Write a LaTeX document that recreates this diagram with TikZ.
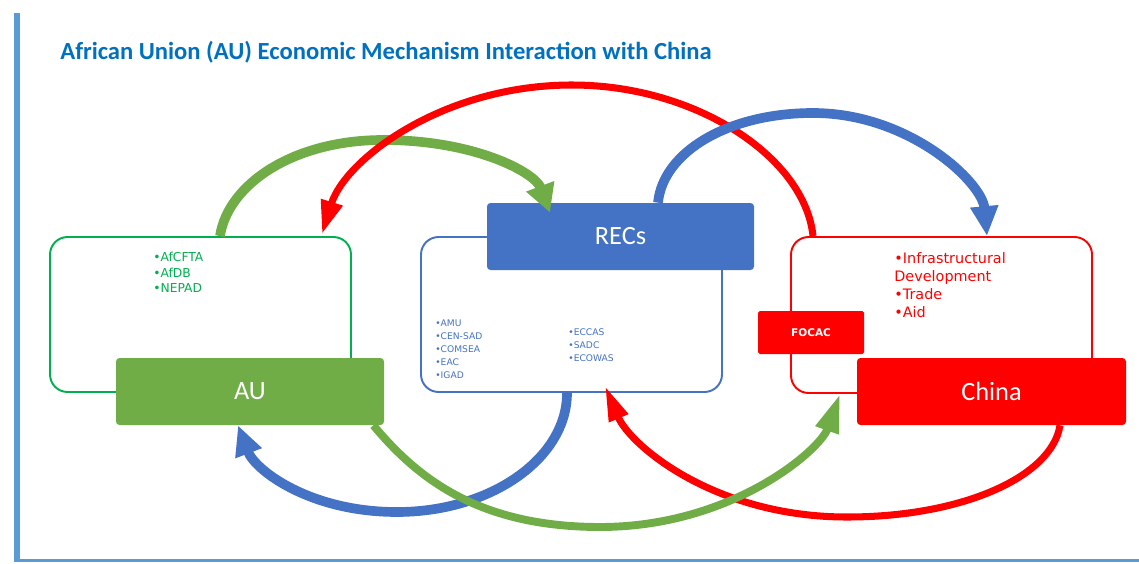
\documentclass[tikz,border=0pt]{standalone}
\usepackage{fontspec}
\setmainfont{Carlito}
\newfontfamily\listfont{DejaVu Sans}
\usetikzlibrary{positioning, arrows.meta}
\definecolor{mechgreen}{RGB}{112,173,71}
\definecolor{mechlgreen}{RGB}{0,176,80}
\definecolor{mechblue}{RGB}{68,114,196}
\definecolor{mechred}{RGB}{255,0,0}
\definecolor{mechtitle}{RGB}{0,112,192}
\definecolor{mechbar}{RGB}{91,155,213}
\tikzset{
    outlinestyle/.style={rectangle, rounded corners=10pt, draw=#1, fill=white, line width=1.1pt, minimum width=6.02cm, minimum height=3.1cm},
    headstyle/.style={rectangle, rounded corners=2pt, fill=#1, text=white, minimum width=5.36cm, minimum height=1.34cm, font=\fontsize{15}{18}\selectfont},
    liststyle/.style={anchor=north west, align=left, inner sep=0pt, text=#1},
    arcstyle/.style={-{Triangle[length=17pt, width=15pt]}, line width=5.5pt, draw=#1}
}
\begin{document}
\begin{tikzpicture}
        \useasboundingbox (0,0) rectangle (22.78,-11.26);

        % Frame and heading
        \fill[mechbar] (0.27,-0.26) rectangle (0.40,-11.24);
        \draw[mechbar, line width=1.2pt] (0.27,-11.21) -- (22.78,-11.21);
        \node[anchor=west, inner sep=0pt, font=\fontsize{14}{17}\selectfont\bfseries, text=mechtitle] (title) at (1.20,-1.04) {African Union (AU) Economic Mechanism Interaction with China};

        % AU
        \node[outlinestyle=mechlgreen] (aubox) at (4.01,-6.29) {};
        \node[headstyle=mechgreen] (aufill) at (5.00,-7.83) {AU};
        \node[liststyle=mechlgreen, font=\listfont\fontsize{7}{8.8}\selectfont] (aulist) at (3.06,-5.04) {•AfCFTA\\•AfDB\\•NEPAD};

        % RECs
        \node[outlinestyle=mechblue] (recbox) at (11.43,-6.29) {};
        \node[headstyle=mechblue, minimum width=5.34cm] (recfill) at (12.41,-4.73) {RECs};
        \node[liststyle=mechblue, font=\listfont\fontsize{5.2}{7.5}\selectfont] (reclist) at (8.70,-6.38) {•AMU\\•CEN-SAD\\•COMSEA\\•EAC\\•IGAD};
        \node[liststyle=mechblue, font=\listfont\fontsize{5.2}{7.5}\selectfont] (reclisttwo) at (11.36,-6.56) {•ECCAS\\•SADC\\•ECOWAS};

        % China
        \node[outlinestyle=mechred, minimum height=3.12cm] (cnbox) at (18.83,-6.30) {};
        \node[rectangle, rounded corners=1pt, fill=mechred, text=white, minimum width=2.12cm, minimum height=0.86cm, font=\listfont\bfseries\fontsize{6}{7}\selectfont] (focac) at (16.22,-6.65) {FOCAC};
        \node[headstyle=mechred, minimum width=5.38cm] (cnfill) at (19.83,-7.83) {China};
        \node[liststyle=mechred, font=\listfont\fontsize{8.2}{10.2}\selectfont] (cnlist) at (17.88,-5.04) {•Infrastructural\\Development\\•Trade\\•Aid};

        % Upper arcs
        \draw[arcstyle=mechgreen, -{Triangle[length=16pt, width=16pt]}] ([xshift=0.39cm]aubox.north) .. controls (4.56,-3.68) and (5.87,-2.80) .. (7.66,-2.80) .. controls (9.50,-2.80) and (10.70,-3.45) .. ([xshift=-1.41cm, yshift=-0.2cm]recfill.north);
        \draw[arcstyle=mechred, line width=4pt, -{Triangle[length=19pt, width=12pt]}] ([xshift=-2.57cm]cnbox.north) .. controls (16.10,-3.16) and (13.94,-1.70) .. (11.44,-1.70) .. controls (8.84,-1.70) and (6.90,-3.20) .. ([xshift=2.43cm, yshift=0.04cm]aubox.north);
        \draw[arcstyle=mechblue] ([xshift=0.75cm]recfill.north) .. controls (13.26,-3.04) and (14.56,-2.26) .. (16.26,-2.26) .. controls (18.18,-2.26) and (19.64,-3.64) .. ([xshift=0.91cm]cnbox.north);

        % Lower arcs
        \draw[arcstyle=mechblue] ([xshift=-0.09cm]recbox.south) .. controls (11.34,-9.17) and (9.81,-10.24) .. (7.94,-10.24) .. controls (6.19,-10.24) and (5.10,-9.40) .. ([xshift=-0.24cm]aufill.south);
        \draw[arcstyle=mechred, line width=4pt, -{Triangle[length=20pt, width=11pt]}] ([xshift=1.37cm]cnfill.south) .. controls (21.04,-9.52) and (19.28,-10.34) .. (16.94,-10.34) .. controls (14.28,-10.34) and (12.60,-8.90) .. ([xshift=0.67cm, yshift=0.14cm]recbox.south);
        \draw[arcstyle=mechgreen, line width=4.5pt, -{Triangle[length=22pt, width=13pt]}] ([xshift=-0.22cm]aufill.south east) .. controls (8.30,-9.50) and (9.50,-10.54) .. (12.00,-10.54) .. controls (14.64,-10.54) and (16.40,-9.00) .. ([xshift=-2.03cm]cnbox.south);
\end{tikzpicture}
\end{document}
